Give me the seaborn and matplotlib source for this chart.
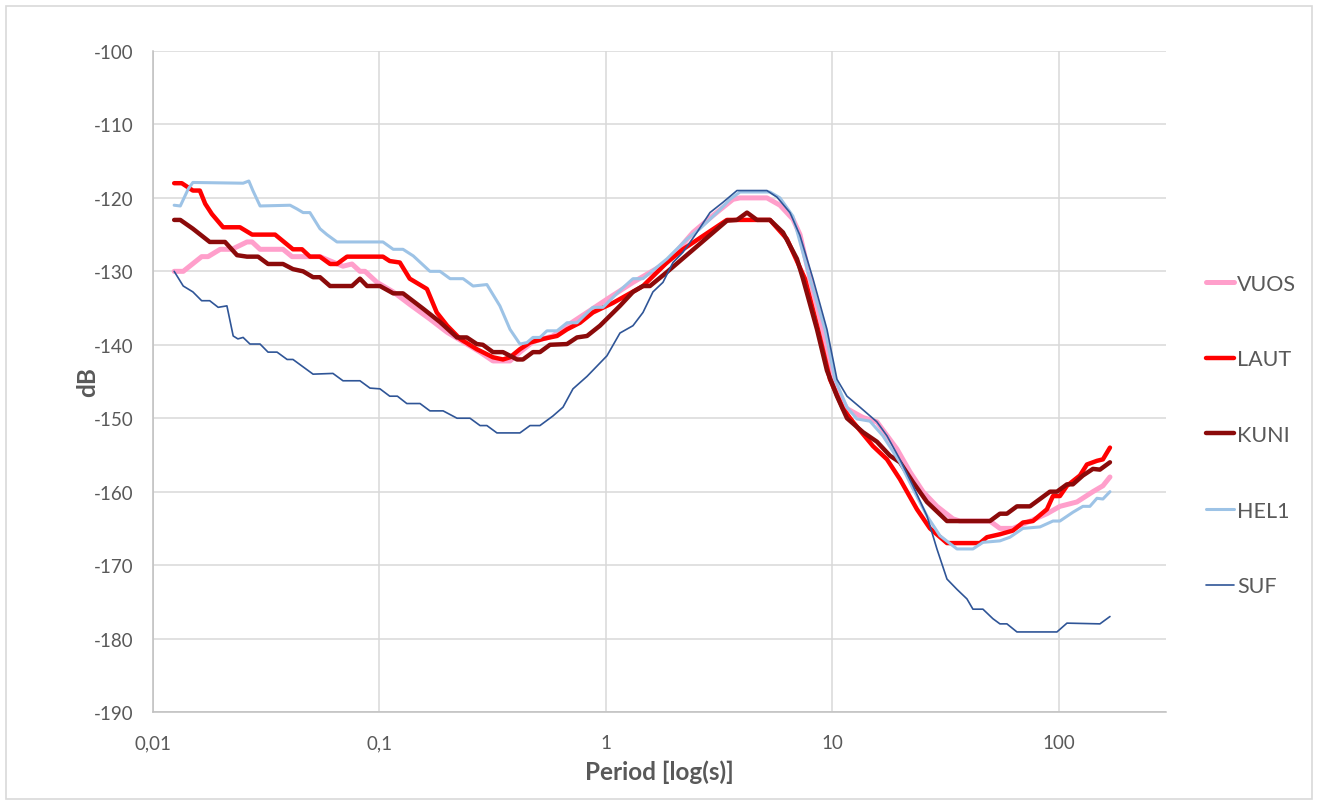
import pandas as pd
import matplotlib.pyplot as plt
import seaborn as sns
from matplotlib.patches import Rectangle

# periods [s] and levels [dB], one pair of lists per station
vuos_period = [0.0124, 0.0136, 0.0164, 0.0175, 0.0198, 0.0223, 0.0260, 0.0274, 0.0297, 0.0375,
               0.0411, 0.0546, 0.0690, 0.0756, 0.0820, 0.0863, 0.0975, 0.115, 0.136, 0.167,
               0.199, 0.234, 0.278, 0.317, 0.377, 0.417, 0.476, 0.583, 0.673, 0.825,
               1.01, 1.316, 1.859, 2.422, 2.968, 3.637, 3.905, 5.138, 5.864, 6.693,
               7.19, 7.96, 9.08, 10.05, 10.79, 11.59, 13.64, 15.72, 19.27, 21.99,
               25.10, 28.93, 34.04, 36.55, 49.59, 54.89, 62.65, 72.24, 88.51, 101.0,
               120.1, 141.3, 156.4, 168.0]
vuos_db = [-130, -130, -128, -128, -127, -127, -126, -126, -127, -127,
           -128, -128, -129.3, -129, -130, -130, -131.5, -132.8, -134.5, -136.5,
           -138.3, -139.6, -141, -142.2, -142.2, -141, -139.6, -138.8, -137.4, -135.6,
           -133.8, -131.5, -128.8, -124.7, -122.4, -120.2, -120, -120, -121, -122.9,
           -125, -131, -137.9, -144.7, -147, -148.7, -149.9, -150.5, -154.2, -157.3,
           -160, -162, -163.7, -164, -164, -165, -165, -164.2, -163, -162,
           -161.4, -160, -159.2, -158]

laut_period = [0.0124, 0.0134, 0.0150, 0.0161, 0.0170, 0.0182, 0.0204, 0.0242, 0.0274, 0.0346,
               0.0415, 0.0455, 0.0493, 0.0546, 0.0605, 0.0649, 0.0719, 0.1036, 0.111, 0.123,
               0.136, 0.162, 0.179, 0.199, 0.227, 0.269, 0.317, 0.351, 0.377, 0.417,
               0.462, 0.527, 0.608, 0.673, 0.768, 0.876, 1.074, 1.457, 1.859, 2.188,
               3.422, 5.297, 6.297, 7.56, 8.63, 9.75, 11.13, 12.32, 15.10, 17.41,
               19.86, 23.61, 26.95, 32.04, 44.79, 48.10, 54.89, 62.65, 69.36, 76.78,
               88.51, 94.09, 101.0, 108.5, 123.8, 132.9, 147.2, 156.4, 168.0]
laut_db = [-118, -118, -119, -119, -120.8, -122.2, -124, -124, -125, -125,
           -127, -127, -128, -128, -129, -129, -128, -128, -128.6, -128.8,
           -131, -132.4, -135.6, -137.4, -139.2, -140.6, -141.7, -142, -141.7, -140.6,
           -139.7, -139.2, -138.8, -137.9, -137, -135.6, -134.3, -132, -128.8, -127,
           -123, -123, -125.6, -131, -137.9, -144.7, -148.7, -150.5, -153.8, -155.6,
           -158.3, -162.4, -165, -167, -167, -166.2, -165.8, -165.3, -164.2, -164,
           -162.4, -160.6, -160.6, -159.2, -157.8, -156.3, -155.8, -155.6, -154]

kuni_period = [0.0124, 0.0132, 0.0150, 0.0178, 0.0208, 0.0235, 0.0260, 0.0291, 0.0322, 0.0375,
               0.0415, 0.0460, 0.0509, 0.0546, 0.0605, 0.0756, 0.0820, 0.0881, 0.1005, 0.115,
               0.127, 0.156, 0.185, 0.220, 0.243, 0.269, 0.286, 0.317, 0.351, 0.405,
               0.430, 0.476, 0.511, 0.566, 0.673, 0.745, 0.825, 0.941, 1.153, 1.316,
               1.457, 1.564, 1.859, 3.422, 3.788, 4.195, 4.643, 5.297, 6.047, 6.971,
               7.411, 8.545, 9.456, 10.47, 11.59, 13.64, 15.72, 17.94, 19.86, 22.67,
               26.14, 32.04, 49.59, 54.89, 58.94, 65.25, 74.47, 82.46, 91.26, 98.0,
               108.5, 115.3, 127.6, 141.3, 151.7, 168.0]
kuni_db = [-123, -123, -124.2, -126, -126, -127.8, -128, -128, -129, -129,
           -129.7, -130, -130.8, -130.8, -132, -132, -131, -132, -132, -133,
           -133, -135.1, -136.9, -139, -139, -139.9, -140, -141, -141, -142,
           -142, -141, -141, -140, -139.9, -139, -138.8, -137.4, -134.7, -132.8,
           -132, -132, -130.1, -123.1, -123, -122, -123, -123, -124.7, -128.3,
           -131, -137.9, -143.5, -147, -150, -151.9, -153.2, -155.1, -156, -158.7,
           -161.4, -164, -164, -163, -163, -162, -162, -161, -160, -160,
           -159, -159, -157.8, -156.9, -157, -156]

hel1_period = [0.0124, 0.0132, 0.0143, 0.0150, 0.0250, 0.0265, 0.0276, 0.0297, 0.0403, 0.0432,
               0.0460, 0.0493, 0.0546, 0.0586, 0.0649, 0.1036, 0.115, 0.127, 0.141, 0.167,
               0.185, 0.205, 0.234, 0.259, 0.298, 0.340, 0.377, 0.417, 0.448, 0.476,
               0.511, 0.549, 0.608, 0.673, 0.745, 0.876, 0.970, 1.153, 1.316, 1.457,
               1.859, 2.279, 2.600, 3.091, 3.528, 3.905, 5.297, 5.864, 6.693, 7.96,
               9.27, 10.26, 11.59, 12.83, 14.64, 16.71, 19.86, 22.67, 26.14, 29.83,
               35.46, 41.72, 46.18, 54.89, 60.77, 69.36, 82.46, 94.09, 101.0, 115.3,
               127.6, 137.0, 147.2, 156.4, 168.0]
hel1_db = [-121, -121.1, -118.8, -117.9, -118, -117.7, -119, -121.1, -121, -121.5,
           -122, -122, -124.2, -125, -126, -126, -127, -127, -127.9, -130,
           -130, -131, -131, -132, -131.8, -134.7, -137.9, -139.9, -139.7, -139,
           -139, -138.1, -138.1, -137, -137, -134.9, -134.9, -132.6, -131, -131,
           -128.3, -125.6, -124.2, -122, -120.2, -119.2, -119.2, -120, -122.5, -131,
           -137.9, -144.7, -148.5, -150.1, -150.4, -152.4, -156, -159.6, -163.3, -166,
           -167.8, -167.8, -166.9, -166.7, -166.2, -165, -164.8, -164, -164, -162.8,
           -162, -162, -160.9, -161, -160]

suf_period = [0.0124, 0.0136, 0.0150, 0.0164, 0.0178, 0.0194, 0.0212, 0.0226, 0.0237, 0.0250,
              0.0268, 0.0297, 0.0322, 0.0353, 0.0391, 0.0415, 0.0509, 0.0623, 0.0690, 0.0820,
              0.0908, 0.1005, 0.111, 0.120, 0.132, 0.151, 0.167, 0.191, 0.220, 0.251,
              0.278, 0.298, 0.330, 0.417, 0.462, 0.511, 0.583, 0.646, 0.715, 0.825,
              0.913, 1.010, 1.153, 1.316, 1.457, 1.612, 1.785, 1.976, 2.188, 2.522,
              2.879, 3.286, 3.788, 5.138, 5.689, 6.492, 7.188, 8.203, 9.456, 10.47,
              11.59, 13.23, 15.72, 17.41, 19.86, 22.67, 26.14, 28.93, 32.04, 35.46,
              39.25, 41.72, 46.18, 51.12, 54.89, 58.94, 65.25, 98.0, 108.5, 151.7,
              168.0]
suf_db = [-130, -132, -132.8, -134, -134, -134.9, -134.7, -138.8, -139.2, -139,
          -139.9, -139.9, -141, -141, -142, -142, -144, -143.9, -144.9, -144.9,
          -145.9, -146, -147, -147, -148, -148, -149, -149, -150, -150,
          -151, -151, -152, -152, -151, -151, -149.7, -148.5, -146, -144.3,
          -142.9, -141.5, -138.4, -137.4, -135.6, -132.8, -131.5, -128.8, -127.4, -124.7,
          -122, -120.6, -119, -119, -119.9, -122, -125.1, -131, -137.9, -144.7,
          -147, -148.5, -150.5, -152.4, -155.6, -159.2, -163.3, -167.8, -171.9, -173.3,
          -174.6, -176, -176, -177.3, -178, -178, -179.1, -179.1, -177.9, -178,
          -177]

stations = ['VUOS', 'LAUT', 'KUNI', 'HEL1', 'SUF']
colors = ['#FF9FCB', '#FF0000', '#8B0A0A', '#9DC3E6', '#2F5597']
widths = [3.6, 3.2, 3.2, 2.2, 1.2]

x_ticks = [0.01, 0.1, 1, 10, 100]
x_labels = ['0,01', '0,1', '1', '10', '100']
y_ticks = list(range(-100, -191, -10))

df = pd.concat([
    pd.DataFrame({'period': p, 'db': d, 'station': s})
    for p, d, s in [(vuos_period, vuos_db, 'VUOS'), (laut_period, laut_db, 'LAUT'),
                    (kuni_period, kuni_db, 'KUNI'), (hel1_period, hel1_db, 'HEL1'),
                    (suf_period, suf_db, 'SUF')]
])

sns.set_style('white')
plt.rcParams['font.family'] = ['Lato', 'DejaVu Sans']
plt.rcParams['axes.unicode_minus'] = False

fig = plt.figure(figsize=(13.17, 8.03), dpi=100)
ax = fig.add_axes([153 / 1317, 1 - 713 / 803, (1166 - 153) / 1317, (713 - 52) / 803])

for st, c, lw in zip(stations, colors, widths):
    sns.lineplot(data=df[df['station'] == st], x='period', y='db', color=c, linewidth=lw,
                 label=st, sort=False, estimator=None, ax=ax,
                 solid_joinstyle='round', solid_capstyle='round')

ax.set_xscale('log')
ax.set_xlim(0.01, 297)
ax.set_ylim(-190, -100)
ax.set_xticks(x_ticks)
ax.set_xticklabels(x_labels)
ax.minorticks_off()
ax.set_yticks(y_ticks)
ax.set_yticklabels([str(v) for v in y_ticks])
ax.tick_params(length=0, labelsize=13.5, labelcolor='#595959')
ax.tick_params(axis='x', pad=16)
ax.tick_params(axis='y', pad=14)
ax.grid(True, color='#D9D9D9', linewidth=1.1)
ax.set_axisbelow(True)
for side in ['top', 'right']:
    ax.spines[side].set_visible(False)
for side in ['left', 'bottom']:
    ax.spines[side].set_color('#BFBFBF')
    ax.spines[side].set_linewidth(1.1)

ax.set_xlabel('Period [log(s)]', fontsize=17.5, fontweight='bold', color='#595959', labelpad=6)
ax.set_ylabel('dB', fontsize=17.5, fontweight='bold', color='#595959', labelpad=-4)

leg = ax.legend(loc='center left', bbox_to_anchor=(1206 / 1317, 1 - 436 / 803),
                bbox_transform=fig.transFigure, frameon=False, fontsize=15.5,
                handlelength=1.3, handletextpad=0.15, labelspacing=2.58, borderaxespad=0,
                borderpad=0)
for t in leg.get_texts():
    t.set_color('#595959')

fig.patches.append(Rectangle((6 / 1317, 3 / 803), 1306 / 1317, 793 / 803, transform=fig.transFigure,
                             fill=False, edgecolor='#D9D9D9', linewidth=1.2))

plt.savefig('out.png', dpi=100)
